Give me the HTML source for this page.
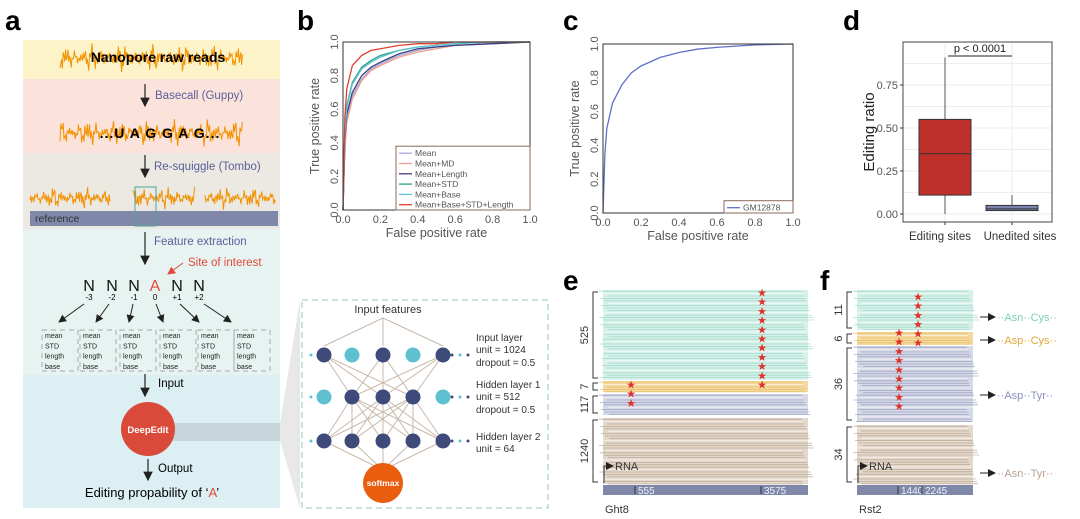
<!DOCTYPE html>
<html><head><meta charset="utf-8"><style>
body{margin:0;background:#fff;}
svg{display:block;font-family:"Liberation Sans",Arial,sans-serif;}
</style></head><body>
<svg id="s" width="1080" height="519" viewBox="0 0 1080 519" xmlns="http://www.w3.org/2000/svg">
<defs><marker id="ah" markerWidth="8" markerHeight="8" refX="7" refY="4" orient="auto"><path d="M0,0 L8,4 L0,8 z" fill="#222"/></marker>
<marker id="ahr" markerWidth="8" markerHeight="8" refX="7" refY="4" orient="auto"><path d="M0,0 L8,4 L0,8 z" fill="#e04a3a"/></marker></defs>
<g>
<text x="5" y="30" font-size="28" font-weight="bold">a</text>
<rect x="23" y="40" width="257" height="39" fill="#fdf3c8"/>
<rect x="23" y="79" width="257" height="74" fill="#fbe3dc"/>
<rect x="23" y="153" width="257" height="76" fill="#ece8e2"/>
<rect x="23" y="229" width="257" height="146" fill="#e6f3f0"/>
<rect x="23" y="375" width="257" height="133" fill="#dceff2"/>
<g id="sq"></g>
<text x="158" y="62" font-size="14" font-weight="bold" text-anchor="middle">Nanopore raw reads</text>
<line x1="145" y1="84" x2="145" y2="106" stroke="#222" stroke-width="1.2" marker-end="url(#ah)"/>
<text x="155" y="99" font-size="11.5" fill="#5a5f9a">Basecall (Guppy)</text>
<text x="160" y="138" font-size="14" font-weight="bold" text-anchor="middle" letter-spacing="1">...U A G G A G...</text>
<line x1="145" y1="155" x2="145" y2="177" stroke="#222" stroke-width="1.2" marker-end="url(#ah)"/>
<text x="154" y="170" font-size="11.5" fill="#5a5f9a">Re-squiggle (Tombo)</text>
<g id="sq2"></g>
<rect x="30" y="211" width="248" height="15" fill="#8088aa"/>
<text x="35" y="222" font-size="10.5" fill="#333">reference</text>
<rect x="135" y="187" width="21" height="39" fill="none" stroke="#4aa89a" stroke-width="1"/>
<line x1="145" y1="232" x2="145" y2="264" stroke="#222" stroke-width="1.2" marker-end="url(#ah)"/>
<text x="154" y="245" font-size="11.5" fill="#5a5f9a">Feature extraction</text>
<text x="188" y="266" font-size="11.5" fill="#e04a3a">Site of interest</text>
<line x1="183" y1="263" x2="168" y2="274" stroke="#e04a3a" stroke-width="1" marker-end="url(#ahr)"/>
<g id="nrow" font-size="16"></g>
<line x1="145" y1="374" x2="145" y2="396" stroke="#222" stroke-width="1.2" marker-end="url(#ah)"/>
<text x="158" y="387" font-size="11.5">Input</text>
<rect x="165" y="423" width="115" height="18" fill="#c8d6dc"/>
<circle cx="148" cy="429" r="27" fill="#d94a3a"/>
<text x="148" y="433" font-size="9.5" font-weight="bold" fill="#fff" text-anchor="middle">DeepEdit</text>
<line x1="148" y1="459" x2="148" y2="480" stroke="#222" stroke-width="1.2" marker-end="url(#ah)"/>
<text x="158" y="472" font-size="11.5">Output</text>
<text x="152" y="497" font-size="13" text-anchor="middle">Editing propability of ‘<tspan fill="#e04a3a">A</tspan>’</text>
</g>
<polygon points="280,423 300,300 300,508 280,441" fill="#e8e8e8"/>
<g>
<rect x="302" y="300" width="246" height="208" fill="#fff" stroke="#8cc9b8" stroke-dasharray="6,4"/>
<text x="388" y="313" font-size="11" text-anchor="middle" fill="#333">Input features</text>
<g id="net"></g>
<g font-size="10" fill="#333">
<text x="476" y="341">Input layer</text>
<text x="476" y="353">unit = 1024</text>
<text x="476" y="366">dropout = 0.5</text>
<text x="476" y="388">Hidden layer 1</text>
<text x="476" y="400">unit = 512</text>
<text x="476" y="413">dropout = 0.5</text>
<text x="476" y="440">Hidden layer 2</text>
<text x="476" y="452">unit = 64</text>
</g>
</g>
<g id="b"></g><g id="c"></g><g id="d"></g><g id="e"></g><g id="f"></g>
</svg>
<script>
const NS="http://www.w3.org/2000/svg";
function mk(p,t,a,txt){const e=document.createElementNS(NS,t);for(const k in a)e.setAttribute(k,a[k]);if(txt!==undefined)e.textContent=txt;p.appendChild(e);return e;}
const $=id=>document.getElementById(id);

// ROC data (panel b)
const fpr=[0,0.01,0.02,0.05,0.1,0.15,0.2,0.3,0.4,0.5,0.6,0.8,1];
const tprMean=[0,0.40,0.55,0.68,0.78,0.84,0.87,0.92,0.95,0.97,0.98,0.99,1];
const tprMD=[0,0.35,0.52,0.66,0.77,0.83,0.86,0.91,0.94,0.96,0.98,0.99,1];
const tprLength=[0,0.42,0.57,0.70,0.80,0.85,0.88,0.93,0.96,0.97,0.98,0.99,1];
const tprSTD=[0,0.45,0.62,0.76,0.85,0.89,0.92,0.95,0.97,0.98,0.99,1,1];
const tprBase=[0,0.45,0.61,0.75,0.84,0.88,0.91,0.95,0.97,0.98,0.99,1,1];
const tprAll=[0,0.55,0.72,0.86,0.92,0.95,0.96,0.98,0.99,0.99,1,1,1];
const seriesNames=["Mean","Mean+MD","Mean+Length","Mean+STD","Mean+Base","Mean+Base+STD+Length"];
// panel c
const tprGM=[0,0.35,0.50,0.65,0.76,0.83,0.87,0.92,0.95,0.97,0.98,0.995,1];
const ticks=["0.0","0.2","0.4","0.6","0.8","1.0"];
// panel d
const boxCats=["Editing sites","Unedited sites"];
const boxQ1=[0.11,0.02];const boxMed=[0.35,0.03];const boxQ3=[0.55,0.05];
const boxLo=[0,0.02];const boxHi=[0.91,0.11];
const dTicks=[0,0.25,0.5,0.75];

(function(){
function sq(g,x0,x1,yc,amp,seed,name){let pts=[];for(let x=x0,k=0;x<=x1;x+=0.8,k++){const n=Math.sin(k*2.3+seed)*0.5+Math.sin(k*5.7+seed*3)*0.35+Math.sin(k*0.9+seed)*0.25;const y=yc+amp*n*(0.7+0.3*Math.sin(x*0.21+seed));pts.push(x.toFixed(1)+","+y.toFixed(1));}
const p=mk(g,"polyline",{points:pts.join(" "),fill:"none",stroke:"#f39200","stroke-width":1});}
sq($("sq"),60,243,58,15,1,"raw-squiggle");sq($("sq"),60,243,133,15,2,"basecall-squiggle");
sq($("sq2"),30,110,198,12,3,"squiggle-seg1");sq($("sq2"),133,195,198,12,4,"squiggle-seg2");sq($("sq2"),205,276,198,12,5,"squiggle-seg3");
const g2=$("nrow");const xs=[89,112,134,155,177,199],subs=["-3","-2","-1","0","+1","+2"],bx=[45,83,123,163,201,237],tx=[63,100,133,167,203,235];
xs.forEach((x,i)=>{const t=mk(g2,"text",{x:x,y:291,"text-anchor":"middle",fill:i==3?"#e04a3a":"#111"},i==3?"A":"N");
const s=mk(g2,"text",{x:x,y:300,"text-anchor":"middle","font-size":8},subs[i]);
const l=mk(g2,"line",{x1:x-5+i*2,y1:304,x2:tx[i]-4,y2:322,stroke:"#222","stroke-width":1,"marker-end":"url(#ah)"});
const r=mk(g2,"rect",{x:bx[i]-3,y:330,width:36,height:41,fill:"none",stroke:"#aaa","stroke-dasharray":"5,4"});
["mean","STD","length","base"].forEach((w,j)=>{const tt=mk(g2,"text",{x:bx[i],y:338+j*10.3,"font-size":7,fill:"#222"},w);});});
})();

(function(){const g=$("net");const xs=[324,352,383,413,443],ys=[355,397,441];
const cols=[["d","l","d","l","d"],["l","d","d","d","l"],["d","d","d","d","d"]];
const ec="#c8b8aa";
[324,383,443].forEach(x=>{const l=mk(g,"line",{x1:383,y1:318,x2:x,y2:346,stroke:ec});});
[0,2,4].forEach(i=>[1,2,3].forEach(j=>{const l=mk(g,"line",{x1:xs[i],y1:ys[0],x2:xs[j],y2:ys[1],stroke:ec});}));
[1,2,3].forEach(i=>[0,1,2,3,4].forEach(j=>{const l=mk(g,"line",{x1:xs[i],y1:ys[1],x2:xs[j],y2:ys[2],stroke:ec});}));
xs.forEach(x=>{const l=mk(g,"line",{x1:x,y1:ys[2],x2:383,y2:470,stroke:ec});});
ys.forEach((y,r)=>{xs.forEach((x,i)=>{const c=mk(g,"circle",{cx:x,cy:y,r:7.5,fill:cols[r][i]=="d"?"#3d4a7a":"#5fc0d0"});});
[311,452,460,468].forEach((x,k)=>{const c=mk(g,"circle",{cx:x,cy:y,r:1.5,fill:k%2?"#3d4a7a":"#5fc0d0"});});});
const sm=mk(g,"circle",{cx:383,cy:483,r:20,fill:"#e85d0e"});
const st=mk(g,"text",{x:383,y:486,"text-anchor":"middle","font-size":8.5,"font-weight":"bold",fill:"#fff"},"softmax");
})();

function roc(gid,L,R,T,B,label,lx,series,colors,names,legend){
const g=$(gid);const X=v=>L+v*(R-L),Y=v=>B-v*(B-T);
const lt=mk(g,"text",{x:lx,y:30,"font-size":28,"font-weight":"bold"},label);
ticks.forEach((t,i)=>{const v=i/5;
const a=mk(g,"text",{x:X(v),y:B+13,"font-size":11,"text-anchor":"middle",fill:"#555"},t);
const b=mk(g,"text",{x:L-5,y:Y(v),"font-size":11,"text-anchor":"middle",fill:"#555",transform:`rotate(-90 ${L-5} ${Y(v)})`},t);
});
series.forEach((s,k)=>{const p=mk(g,"polyline",{points:s.map((v,i)=>X(fpr[i])+","+Y(v)).join(" "),fill:"none",stroke:colors[k],"stroke-width":1.3});});
const fr=mk(g,"rect",{x:L,y:T,width:R-L,height:B-T,fill:"none",stroke:"#333","stroke-width":1});
const xt=mk(g,"text",{x:(L+R)/2,y:B+27,"font-size":12.5,"text-anchor":"middle",fill:"#555"},"False positive rate");
const yx=L-24,yy=(T+B)/2;const yt=mk(g,"text",{x:yx,y:yy,"font-size":12.5,"text-anchor":"middle",fill:"#555",transform:`rotate(-90 ${yx} ${yy})`},"True positive rate");
const [bx,by,bw]=legend;const bh=names.length*10.3+2;
const lb=mk(g,"rect",{x:bx,y:B-bh,width:bw,height:bh,fill:"#fff",stroke:"#8a6a5a"});
names.forEach((n,k)=>{const y=B-bh+7+k*10.3;const l=mk(g,"line",{x1:bx+3,y1:y,x2:bx+16,y2:y,stroke:colors[k],"stroke-width":1.3});
const t=mk(g,"text",{x:bx+19,y:y+3,"font-size":8.5,fill:"#555"},n);});
}
roc("b",343,530,42,210,"b",297,[tprMean,tprMD,tprLength,tprSTD,tprBase,tprAll],["#a8a8d8","#f0a090","#3a3f80","#30a080","#60c0d8","#e04030"],seriesNames,[396,0,134]);
roc("c",603,793,44,213,"c",563,[tprGM],["#6070c8"],["GM12878"],[724,0,69]);

(function(){const g=$("d");const L=903,R=1052,T=42,B=222;const Y=v=>214-v*172;const cx=[945,1012],hw=26;
const lt=mk(g,"text",{x:843,y:30,"font-size":28,"font-weight":"bold"},"d");
[0,0.125,0.25,0.375,0.5,0.625,0.75,0.875].forEach(v=>{const l=mk(g,"line",{x1:L,x2:R,y1:Y(v),y2:Y(v),stroke:"#eee"});});
cx.forEach(x=>{const l=mk(g,"line",{x1:x,x2:x,y1:T,y2:B,stroke:"#eee"});});
dTicks.forEach(v=>{const t=mk(g,"text",{x:L-5,y:Y(v)+4,"font-size":11,"text-anchor":"end",fill:"#555"},v.toFixed(2));
const k=mk(g,"line",{x1:L-3,x2:L,y1:Y(v),y2:Y(v),stroke:"#333"});});
const fills=["#c0302a","#7a82b0"];
boxCats.forEach((c,i)=>{const x=cx[i];
const w=mk(g,"line",{x1:x,x2:x,y1:Y(boxLo[i]),y2:Y(boxHi[i]),stroke:"#555"});
const r=mk(g,"rect",{x:x-hw,y:Y(boxQ3[i]),width:hw*2,height:Y(boxQ1[i])-Y(boxQ3[i]),fill:fills[i],stroke:"#333"});
const m=mk(g,"line",{x1:x-hw,x2:x+hw,y1:Y(boxMed[i]),y2:Y(boxMed[i]),stroke:"#333","stroke-width":1});
const t=mk(g,"text",{x:x+(i?8:-5),y:B+18,"font-size":11.5,"text-anchor":"middle",fill:"#333"},c);
const k=mk(g,"line",{x1:x,x2:x,y1:B,y2:B+3,stroke:"#333"});});
const fr=mk(g,"rect",{x:L,y:T,width:R-L,height:B-T,fill:"none",stroke:"#444"});
const pl=mk(g,"line",{x1:948,x2:1012,y1:56,y2:56,stroke:"#222"});
const pt=mk(g,"text",{x:980,y:52,"font-size":11,"text-anchor":"middle",fill:"#222"},"p < 0.0001");
const yt=mk(g,"text",{x:874,y:132,"font-size":15,"text-anchor":"middle",fill:"#222",transform:"rotate(-90 874 132)"},"Editing ratio");
})();

function pile(gid,label,lx,L,R,groups,bar,stars,name,right){
const g=$(gid);
const lt=mk(g,"text",{x:lx,y:290,"font-size":28,"font-weight":"bold"},label);
groups.forEach((gr,gi)=>{const [y0,y1,bg,fg,n]=gr;
const r=mk(g,"rect",{x:L,y:y0,width:R-L,height:y1-y0,fill:bg});
for(let y=y0+1.2,k=0;y<y1;y+=2.4,k++){const dx=((k*37)%11)-4,dr=((k*53)%13)-6;const l=mk(g,"line",{x1:L+dx,x2:R+dr,y1:y,y2:y,stroke:k%4==1?"#fff":fg,"stroke-width":0.8,opacity:0.7});}
const bxl=L-10;const p=mk(g,"path",{d:`M${bxl+5},${y0+2} H${bxl} V${y1-2} H${bxl+5}`,fill:"none",stroke:"#333","stroke-width":1});
const cy=(y0+y1)/2;const t=mk(g,"text",{x:bxl-5,y:cy,"font-size":11,"text-anchor":"middle",fill:"#333",transform:`rotate(-90 ${bxl-5} ${cy})`},n);});
const rb=mk(g,"rect",{x:L,y:485,width:R-L,height:10,fill:"#7f88a8"});
bar.forEach(([x,t])=>{const k=mk(g,"line",{x1:x,x2:x,y1:486,y2:494,stroke:"#333"});
const tt=mk(g,"text",{x:x+3,y:494,"font-size":10,fill:"#eef"},t);});
const ar=mk(g,"path",{d:`M${L+1},483 V466 H${L+10}`,fill:"none",stroke:"#333","marker-end":"url(#ah)"});
const rt=mk(g,"text",{x:L+12,y:470,"font-size":11,fill:"#333"},"RNA");
const nm=mk(g,"text",{x:L+2,y:513,"font-size":11,fill:"#333"},name);
stars.forEach(([x,y0,y1])=>{for(let y=y0;y<=y1+0.1;y+=9.2){const s=mk(g,"text",{x:x,y:y+3.5,"font-size":11,"text-anchor":"middle",fill:"#e0302a"},"★");}});
(right||[]).forEach(([y,t,c])=>{const l=mk(g,"line",{x1:980,x2:995,y1:y,y2:y,stroke:"#222","marker-end":"url(#ah)"});
const tt=mk(g,"text",{x:997,y:y+4,"font-size":11,fill:c},t);});
}
pile("e","e",563,603,808,[[290,380,"#d8f0ea","#8ad4c0","525"],[381,392,"#f3d8a0","#e8b850","7"],[394,415,"#d6d9e6","#8890b8","117"],[418,484,"#e4d8cc","#b09880","1240"]],[[635,"555"],[761,"3575"]],[[762,293,385],[631,385,412]],"Ght8");
pile("f","f",820,857,973,[[290,330,"#d8f0ea","#8ad4c0","11"],[332,345,"#f3d8a0","#e8b850","6"],[346,422,"#d6d9e6","#8890b8","36"],[425,484,"#e4d8cc","#b09880","34"]],[[898,"1440"],[922,"2245"]],[[918,297,343],[899,333,415]],"Rst2",
[[317,"··Asn··Cys··","#7ccfb6"],[340,"··Asp··Cys··","#e0a838"],[395,"··Asp··Tyr··","#8890c0"],[473,"··Asn··Tyr··","#b8a090"]]);
</script>
</body></html>
